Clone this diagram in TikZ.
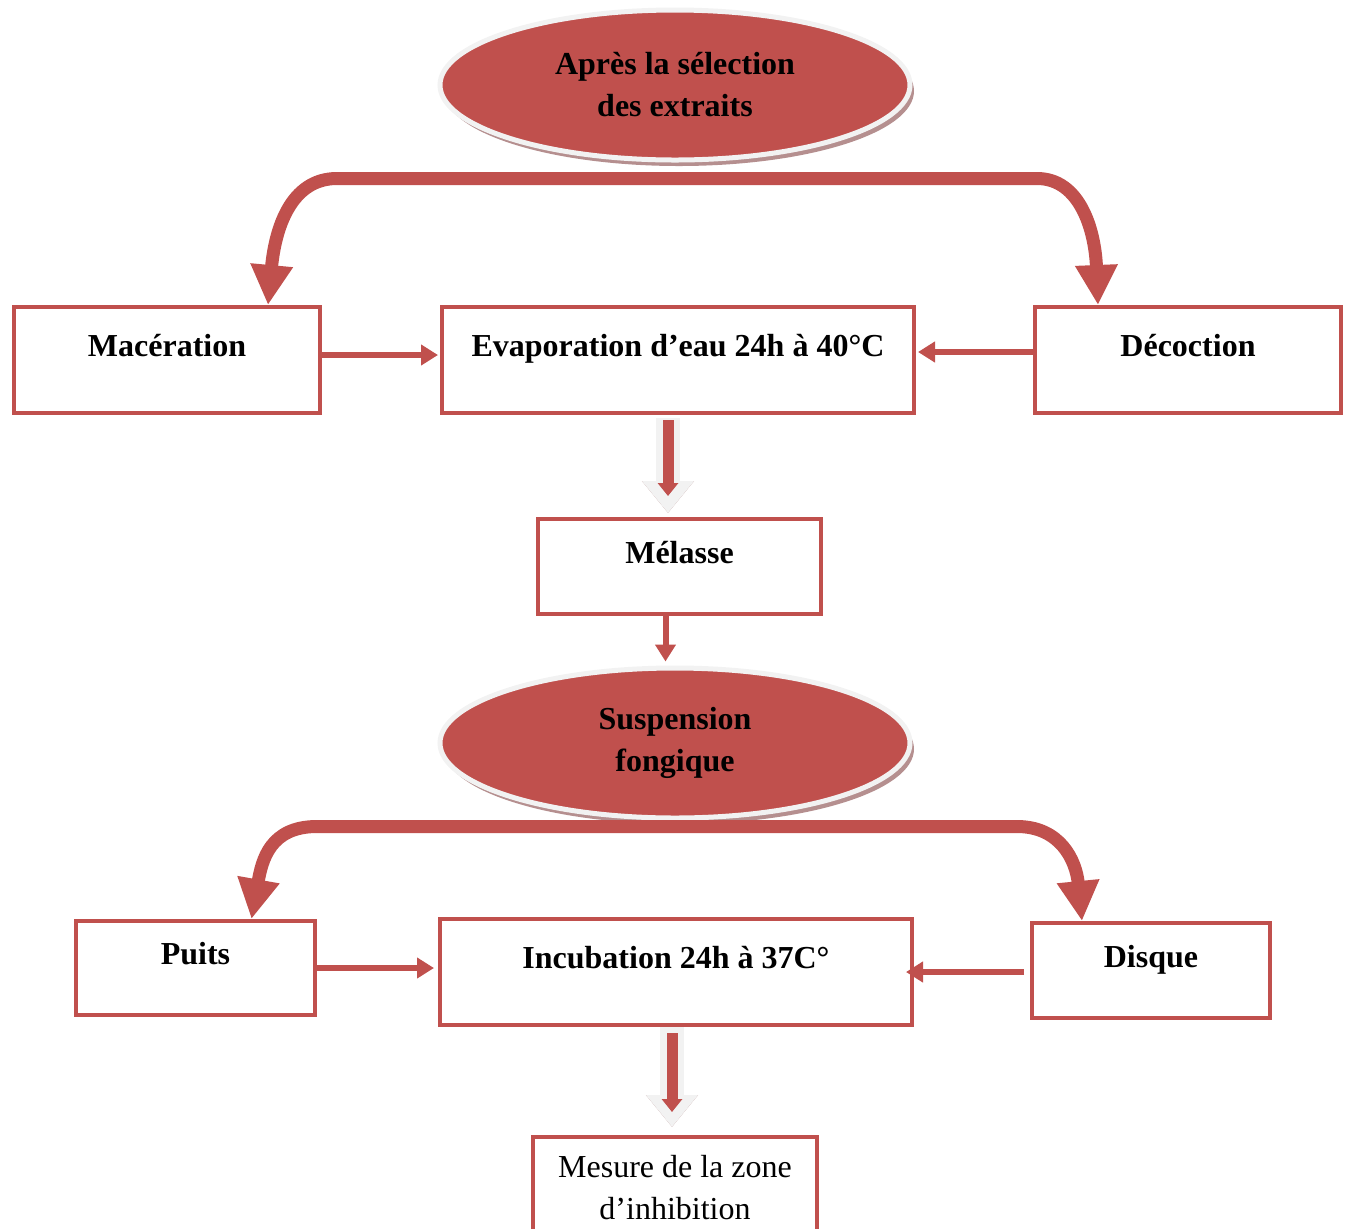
\documentclass[tikz,border=0pt]{standalone}
\usepackage{fontspec}
\setmainfont{Liberation Serif}
\usepackage{tikz}
\usetikzlibrary{shapes.geometric, arrows.meta, shadows}
\definecolor{boxred}{HTML}{C0504D}
\definecolor{ringgray}{HTML}{F2F2F2}
\definecolor{shadowrose}{HTML}{B58F8F}
\tikzstyle{thinarrow} = [line width=3pt,boxred,-{Triangle[length=8.5pt,width=10pt]}]

\begin{document}
\begin{tikzpicture}[x=0.5pt,y=-0.5pt, font=\fontsize{16}{21}\selectfont\bfseries]
    \tikzstyle{box}=[rectangle,draw=boxred,line width=2pt,fill=white,text height=11pt,text depth=14.5pt]
    \tikzstyle{plain box}=[rectangle,draw=boxred,line width=2pt,fill=white,align=center,inner ysep=9pt]
    \tikzstyle{bubble}=[ellipse,draw=ringgray,line width=2.5pt,fill=boxred,minimum width=235pt,minimum height=75pt,align=center,
        drop shadow={shadow xshift=2pt,shadow yshift=-3pt,fill=shadowrose,opacity=1}]
    \tikzstyle{bigarrow}=[line width=6.5pt,boxred,{Triangle[length=20pt,width=20pt]}-{Triangle[length=20pt,width=20pt]}]
    \tikzstyle{hollow shaft}=[line width=12pt,ringgray,-{Triangle[length=16pt,width=25pt]}]
    \tikzstyle{hollow shadow}=[hollow shaft,shadowrose,xshift=1.5pt,yshift=-1.5pt]
    \tikzstyle{hollow core}=[line width=5.5pt,boxred,-{Triangle[length=6.5pt,width=10pt]}]

    \useasboundingbox (0,0) rectangle (1351,1228);

    % Draw the two ellipses
    \path node[bubble] (select) at (675,85) {Après la sélection\\des extraits};
    \path node[bubble] (susp) at (675,743) {Suspension\\fongique};

    % Draw the first row of boxes
    \path node[box,minimum width=153pt,minimum height=53pt] (mac) at (167,360) {Macération};
    \path node[box,minimum width=236pt,minimum height=53pt] (evap) at (678,360) {Evaporation d’eau 24h à 40°C};
    \path node[box,minimum width=153pt,minimum height=53pt] (dec) at (1188,360) {Décoction};
    \path node[box,minimum width=141.5pt,minimum height=47.5pt] (mel) at (679.5,566.5) {Mélasse};

    % Draw the second row of boxes
    \path node[box,minimum width=119.5pt,minimum height=47pt] (puits) at (195.5,968) {Puits};
    \path node[box,minimum width=236pt,minimum height=53pt] (incub) at (676,972) {Incubation 24h à 37C°};
    \path node[box,minimum width=119pt,minimum height=47.5pt] (disque) at (1151,970.5) {Disque};
    \path node[plain box,minimum width=142pt,anchor=north,font=\fontsize{16}{21}\selectfont] (mes) at (675,1135) {Mesure de la zone\\d’inhibition};

    % Split arrows under the ellipses
    \draw[bigarrow] ([xshift=50.5pt]mac.north) .. controls (275,230) and (290,178.5) .. (337,178.5)
        -- (1037,178.5) .. controls (1080,178.5) and (1095,230) .. ([xshift=-45pt]dec.north);
    \draw[bigarrow] ([xshift=28pt]puits.north) .. controls (262,860) and (270,826.5) .. (317,826.5)
        -- (1017,826.5) .. controls (1060,826.5) and (1076,860) .. ([xshift=-34.5pt]disque.north);

    % Side arrows into the middle boxes
    \draw[thinarrow] ([yshift=2.5pt]mac.east) -- ([yshift=2.5pt,xshift=-1pt]evap.west);
    \draw[thinarrow] ([yshift=4pt]dec.west) -- ([yshift=4pt,xshift=1pt]evap.east);
    \draw[thinarrow] (puits.east) -- ([xshift=-2pt]incub.west |- puits.east);
    \draw[thinarrow] ([xshift=-3pt]disque.west |- incub.east) -- ([xshift=-4pt]incub.east);
    \draw[thinarrow,shorten >=2pt] ([xshift=-7pt]mel.south) -- ([xshift=-7pt]mel.south |- susp.north);

    % Hollow arrows down
    \coordinate (h1a) at ([xshift=-5pt]evap.south);
    \coordinate (h1b) at (h1a |- mel.north);
    \coordinate (h2a) at ([xshift=-2pt]incub.south);
    \coordinate (h2b) at (h2a |- mes.north);
    \draw[hollow shadow,shorten <=1.5pt,shorten >=2pt] (h1a) -- (h1b);
    \draw[hollow shaft,shorten <=1.5pt,shorten >=2pt] (h1a) -- (h1b);
    \draw[hollow core,shorten <=2.5pt,shorten >=10.5pt] (h1a) -- (h1b);
    \draw[hollow shadow,shorten >=4pt] (h2a) -- (h2b);
    \draw[hollow shaft,shorten >=4pt] (h2a) -- (h2b);
    \draw[hollow core,shorten <=3pt,shorten >=11.5pt] (h2a) -- (h2b);
\end{tikzpicture}
\end{document}
